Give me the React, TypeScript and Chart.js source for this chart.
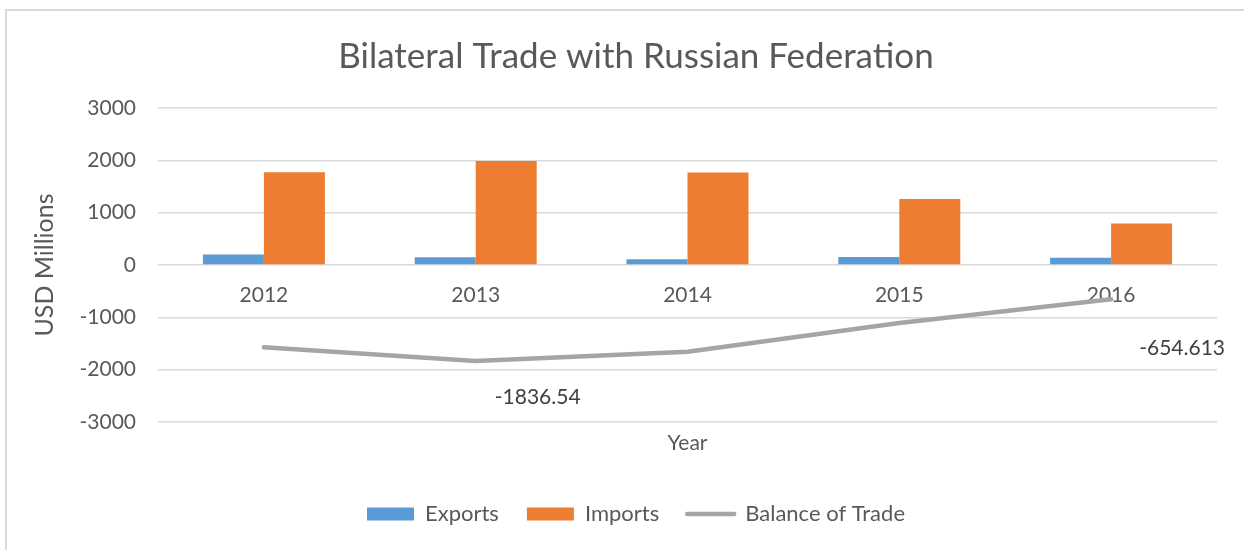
import React, { useEffect, useRef } from "react";
import { Chart, registerables } from "chart.js";

Chart.register(...registerables);

const years = ["2012", "2013", "2014", "2015", "2016"];
const exportsVals = [200, 150, 110, 153, 140];
const importsVals = [1770, 1986.54, 1766, 1262, 794.613];
const balanceVals = [-1570, -1836.54, -1656, -1109, -654.613];
const yTickVals = [-3000, -2000, -1000, 0, 1000, 2000, 3000];
const labeledPoints = [1, 4];

const FONT = "Lato, 'Open Sans', sans-serif";
const TEXT = "#595959";

export default function App() {
  const ref = useRef<HTMLCanvasElement>(null);

  useEffect(() => {
    if (!ref.current) return;

    const labelOffsets: Record<number, [number, number]> = { 1: [62, 36], 4: [71, 49] };
    const pointLabels = {
      id: "pointLabels",
      afterDatasetsDraw(chart: any) {
        const meta = chart.getDatasetMeta(2);
        const ctx = chart.ctx;
        ctx.save();
        ctx.font = `21px ${FONT}`;
        ctx.fillStyle = "#404040";
        ctx.textAlign = "center";
        ctx.textBaseline = "middle";
        labeledPoints.forEach((i) => {
          const p = meta.data[i];
          const [dx, dy] = labelOffsets[i];
          ctx.fillText(String(balanceVals[i]), p.x + dx, p.y + dy);
        });
        ctx.restore();
      },
    };

    const chart = new Chart(ref.current, {
      type: "bar",
      data: {
        labels: years,
        datasets: [
          {
            label: "Exports",
            data: exportsVals,
            backgroundColor: "#5b9bd5",
            borderWidth: 0,
            categoryPercentage: 0.576,
            barPercentage: 1,
            pointStyle: "rect",
          } as any,
          {
            label: "Imports",
            data: importsVals,
            backgroundColor: "#ed7d31",
            borderWidth: 0,
            categoryPercentage: 0.576,
            barPercentage: 1,
            pointStyle: "rect",
          } as any,
          {
            type: "line",
            label: "Balance of Trade",
            data: balanceVals,
            borderColor: "#a5a5a5",
            backgroundColor: "#a5a5a5",
            borderWidth: 4.5,
            pointRadius: 0,
            pointHoverRadius: 0,
            pointStyle: "line",
            tension: 0,
            fill: false,
            borderCapStyle: "round",
            borderJoinStyle: "round",
          } as any,
        ],
      },
      options: {
        responsive: false,
        animation: false,
        devicePixelRatio: 1,
        layout: { padding: { left: 55, right: 27, top: 0, bottom: 15 } },
        plugins: {
          title: {
            display: true,
            text: "Bilateral Trade with Russian Federation",
            color: TEXT,
            font: { family: FONT, size: 35, weight: "normal" },
            padding: { top: 36, bottom: 30 },
          },
          legend: {
            position: "bottom",
            labels: {
              usePointStyle: true,
              pointStyleWidth: 47,
              boxHeight: 13,
              padding: 28,
              color: TEXT,
              font: { family: FONT, size: 22 },
              generateLabels: (c: any) => {
                const items = (Chart.defaults as any).plugins.legend.labels.generateLabels(c);
                return items.map((it: any, i: number) => ({
                  ...it,
                  pointStyle: i === 2 ? "line" : "rect",
                  lineWidth: i === 2 ? 4.5 : 0,
                  lineCap: "round",
                  strokeStyle: i === 2 ? "#a5a5a5" : it.strokeStyle,
                }));
              },
            },
          },
          tooltip: { enabled: false },
        },
        scales: {
          x: {
            type: "category",
            position: { y: 0 } as any,
            grid: { display: false, drawTicks: false },
            border: { display: false },
            ticks: { padding: 18, color: TEXT, font: { family: FONT, size: 21 }, maxRotation: 0 },
          },
          x2: {
            type: "category",
            position: "bottom",
            grid: { display: false, drawTicks: false },
            border: { display: false },
            ticks: { display: false },
            title: {
              display: true,
              text: "Year",
              color: TEXT,
              font: { family: FONT, size: 21 },
              padding: { top: 0, bottom: 19 },
            },
            afterFit: (s: any) => {
              s.height = 53;
            },
          },
          y: {
            position: "left",
            min: -3000,
            max: 3000,
            afterBuildTicks: (s: any) => {
              s.ticks = yTickVals.map((v) => ({ value: v }));
            },
            grid: { color: "#d9d9d9", lineWidth: 1.5, drawTicks: false },
            border: { display: false },
            ticks: {
              padding: 22,
              color: TEXT,
              font: { family: FONT, size: 21 },
              callback: (v: any) => String(v),
            },
            title: {
              display: true,
              text: "USD Millions",
              color: TEXT,
              font: { family: FONT, size: 25 },
              padding: { top: -25, bottom: 0 },
            },
            afterFit: (s: any) => {
              s.width = 103;
            },
          },
        },
      } as any,
      plugins: [pointLabels],
    });

    return () => chart.destroy();
  }, []);

  return (
    <div
      style={{
        position: "fixed",
        left: 0,
        top: 0,
        width: 1244,
        height: 550,
        background: "#ffffff",
        overflow: "hidden",
      }}
    >
      <div
        style={{
          position: "absolute",
          left: 5,
          top: 9,
          width: 1300,
          height: 600,
          border: "2px solid #d9d9d9",
        }}
      />
      <canvas ref={ref} width={1244} height={550} style={{ position: "absolute", left: 0, top: 0 }} />
    </div>
  );
}
